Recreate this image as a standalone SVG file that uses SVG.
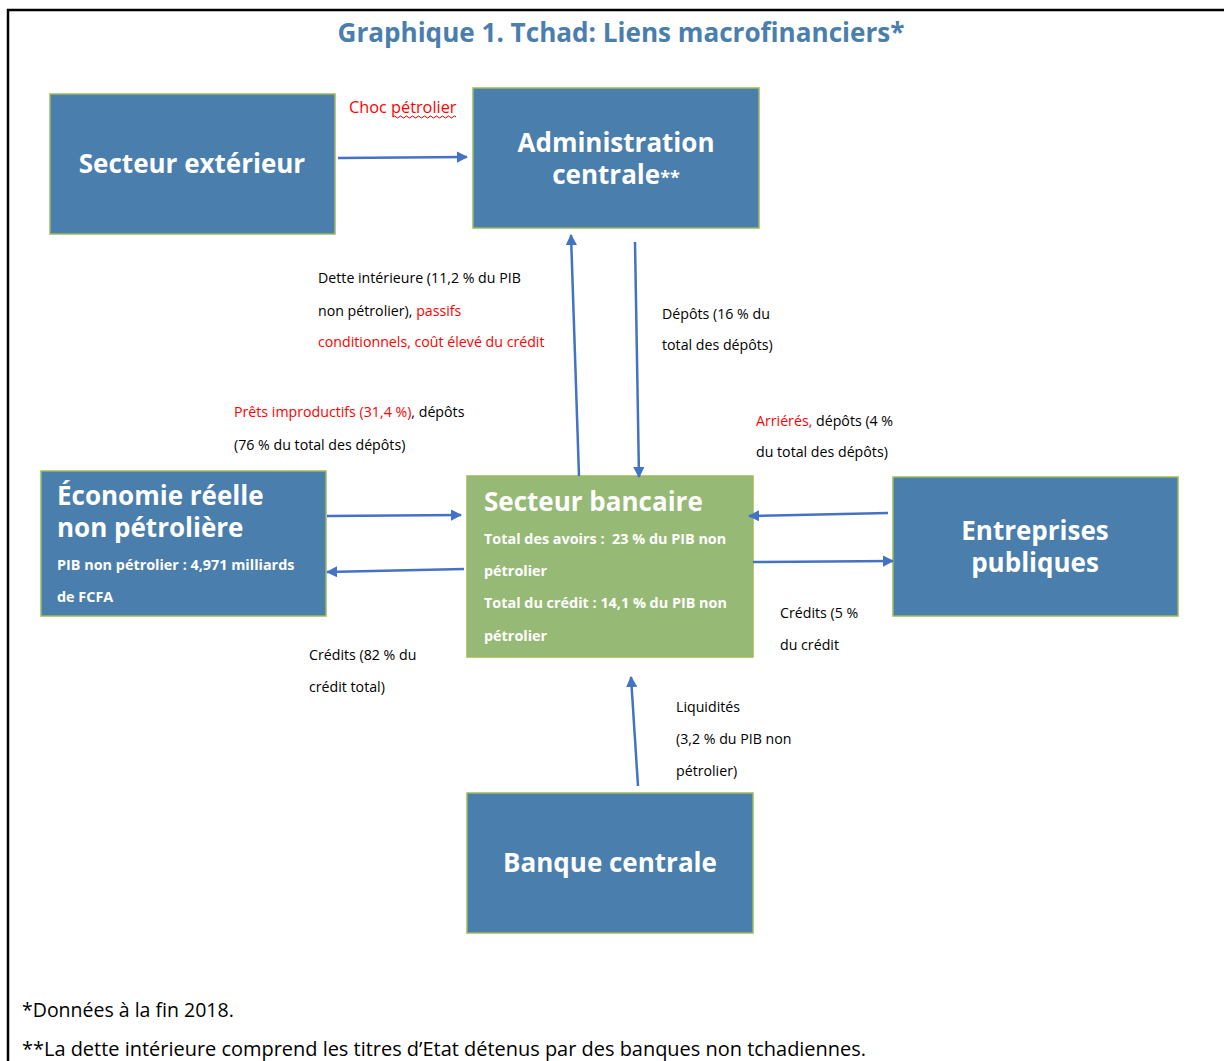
<svg xmlns="http://www.w3.org/2000/svg" width="1224" height="1061" viewBox="0 0 1224 1061">
<defs>
<marker id="ah" viewBox="0 0 10 10" refX="9" refY="5" markerWidth="4.5" markerHeight="4.5" orient="auto" markerUnits="strokeWidth">
<path d="M0,0 L10,5 L0,10 z" fill="#4472c4"/>
</marker>
<style>
.box{fill:#4a7ead;stroke:#9bbb59;stroke-width:1.5}
.gbox{fill:#97b976;stroke:#9bbb59;stroke-width:1.5}
.nt{font-family:"Open Sans","Noto Sans","Liberation Sans",sans-serif;font-weight:bold;fill:#fff;font-size:26px}
.ns{font-family:"Open Sans","Noto Sans","Liberation Sans",sans-serif;font-weight:bold;fill:#fff;font-size:14.4px}
.lb{font-family:"Open Sans","Noto Sans","Liberation Sans",sans-serif;fill:#000;font-size:14.2px}
.red{fill:#ff0000}
.fn{font-family:"Open Sans","Noto Sans","Liberation Sans",sans-serif;fill:#000;font-size:19.5px}
.cn{stroke:#4472c4;stroke-width:2.5;fill:none;marker-end:url(#ah)}
</style>
</defs>
<rect width="1224" height="1061" fill="#fff"/>
<path d="M8,1061 V10 H1224" fill="none" stroke="#000" stroke-width="2.5"/>
<text x="621" y="42" text-anchor="middle" font-family="'Open Sans','Noto Sans','Liberation Sans',sans-serif" font-weight="bold" font-size="26" fill="#4a7ead" textLength="567" lengthAdjust="spacingAndGlyphs">Graphique 1. Tchad: Liens macrofinanciers*</text>

<g id="secteur-exterieur">
<rect class="box" x="50" y="94" width="285" height="140"/>
<text class="nt" x="192" y="173" text-anchor="middle">Secteur extérieur</text>
</g>
<g id="administration-centrale">
<rect class="box" x="473" y="88" width="286" height="140"/>
<text class="nt" text-anchor="middle"><tspan x="616" y="152">Administration</tspan><tspan x="616" y="184">centrale<tspan style="font-size:18px">**</tspan></tspan></text>
</g>
<g id="economie-reelle">
<rect class="box" x="41" y="471" width="285" height="145"/>
<text class="nt"><tspan x="57" y="505">Économie réelle</tspan><tspan x="57" y="537">non pétrolière</tspan></text>
<text class="ns" x="57" y="570">PIB non pétrolier : 4,971 milliards</text>
<text class="ns" x="57" y="602">de FCFA</text>
</g>
<g id="secteur-bancaire">
<rect class="gbox" x="467" y="476" width="286" height="181"/>
<text class="nt" x="484" y="511">Secteur bancaire</text>
<text class="ns" x="484" y="544" xml:space="preserve">Total des avoirs :  23 % du PIB non</text>
<text class="ns" x="484" y="576">pétrolier</text>
<text class="ns" x="484" y="608">Total du crédit : 14,1 % du PIB non</text>
<text class="ns" x="484" y="641">pétrolier</text>
</g>
<g id="entreprises-publiques">
<rect class="box" x="893" y="477" width="285" height="139"/>
<text class="nt" text-anchor="middle"><tspan x="1035" y="540">Entreprises</tspan><tspan x="1035" y="572">publiques</tspan></text>
</g>
<g id="banque-centrale">
<rect class="box" x="467" y="793" width="286" height="140"/>
<text class="nt" x="610" y="872" text-anchor="middle">Banque centrale</text>
</g>

<g id="connectors">
<line class="cn" x1="338" y1="158" x2="467" y2="157"/>
<line class="cn" x1="579" y1="476" x2="571" y2="235"/>
<line class="cn" x1="635" y1="242" x2="639" y2="477"/>
<line class="cn" x1="327" y1="516" x2="461" y2="515"/>
<line class="cn" x1="464" y1="569" x2="327" y2="572"/>
<line class="cn" x1="888" y1="513" x2="749" y2="516"/>
<line class="cn" x1="753" y1="562" x2="893" y2="561"/>
<line class="cn" x1="638" y1="786" x2="631" y2="677"/>
</g>

<g id="labels">
<text class="lb red" x="349" y="113" style="font-size:16.3px">Choc pétrolier</text>
<path d="M393,117 q1.5,-2 3,0 t3,0 t3,0 t3,0 t3,0 t3,0 t3,0 t3,0 t3,0 t3,0 t3,0 t3,0 t3,0 t3,0 t3,0 t3,0 t3,0 t3,0 t3,0 t3,0 t3,0" fill="none" stroke="#c00000" stroke-width="1"/>
<text class="lb" x="318" y="283">Dette intérieure (11,2 % du PIB</text>
<text class="lb" x="318" y="316">non pétrolier), <tspan class="red">passifs</tspan></text>
<text class="lb red" x="318" y="347">conditionnels, coût élevé du crédit</text>
<text class="lb" x="662" y="319">Dépôts (16 % du</text>
<text class="lb" x="662" y="350">total des dépôts)</text>
<text class="lb" x="234" y="417"><tspan class="red">Prêts improductifs (31,4 %)</tspan>, dépôts</text>
<text class="lb" x="234" y="450">(76 % du total des dépôts)</text>
<text class="lb" x="756" y="426"><tspan class="red">Arriérés,</tspan> dépôts (4 %</text>
<text class="lb" x="756" y="457">du total des dépôts)</text>
<text class="lb" x="309" y="660">Crédits (82 % du</text>
<text class="lb" x="309" y="692">crédit total)</text>
<text class="lb" x="780" y="618">Crédits (5 %</text>
<text class="lb" x="780" y="650">du crédit</text>
<text class="lb" x="676" y="712">Liquidités</text>
<text class="lb" x="676" y="744">(3,2 % du PIB non</text>
<text class="lb" x="676" y="776">pétrolier)</text>
</g>

<text class="fn" x="22" y="1017">*Données à la fin 2018.</text>
<text class="fn" x="22" y="1056" textLength="844" lengthAdjust="spacingAndGlyphs">**La dette intérieure comprend les titres d’Etat détenus par des banques non tchadiennes.</text>
</svg>
